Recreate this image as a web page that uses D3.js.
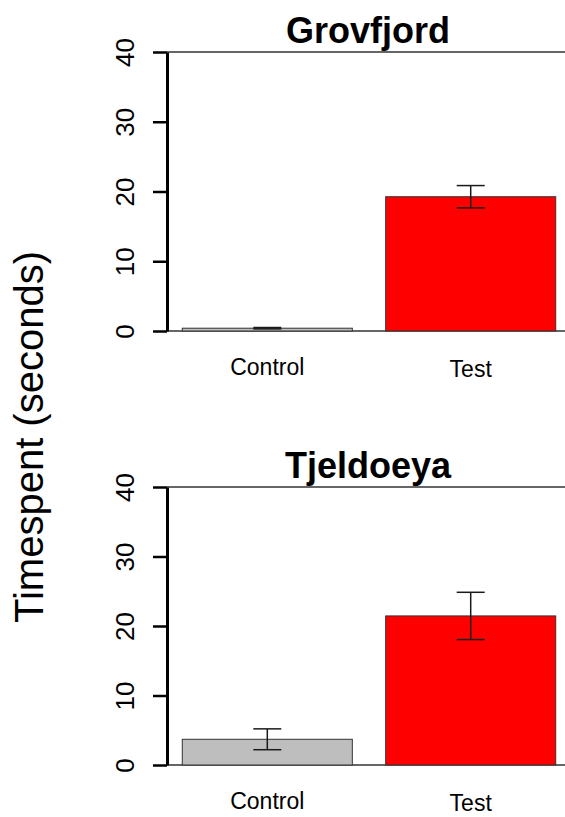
<!DOCTYPE html>
<html>
<head>
<meta charset="utf-8">
<script src="https://cdn.jsdelivr.net/npm/d3@7"></script>
<style>
  body { margin: 0; background: #fff; }
  svg { display: block; font-family: 'Liberation Sans', Arial, sans-serif; }
</style>
</head>
<body>
<div id="chart"></div>
<script>
const sites = ['Grovfjord', 'Tjeldoeya'];
const treatments = ['Control', 'Test'];
const meanTime = [[0.4, 19.25], [3.7, 21.45]];
const seTime = [[0.1, 1.6], [1.5, 3.4]];
const yTicks = [0, 10, 20, 30, 40];
const barColors = ['#bebebe', '#ff0000'];

const width = 565;
const height = 817;
const axisX = 167;

// vertical extent of each panel: [y of 0, y of 40]
const panelRanges = [[331, 52], [765, 487]];

const svg = d3.select('#chart')
  .append('svg')
  .attr('width', width)
  .attr('height', height);

svg.append('rect')
  .attr('width', width)
  .attr('height', height)
  .attr('fill', '#fff');

const x = d3.scaleBand()
  .domain(treatments)
  .range([165.6, 572.4])
  .paddingInner(0.164)
  .paddingOuter(0.082);

sites.forEach((site, i) => {
  const y = d3.scaleLinear()
    .domain([0, 40])
    .range(panelRanges[i]);

  const g = svg.append('g');

  // frame lines at 0 and 40
  [0, 40].forEach(v => {
    g.append('line')
      .attr('x1', axisX)
      .attr('x2', width)
      .attr('y1', y(v))
      .attr('y2', y(v))
      .attr('stroke', '#333')
      .attr('stroke-width', 1.3);
  });

  const rows = treatments.map((t, j) => ({
    label: t,
    value: meanTime[i][j],
    se: seTime[i][j],
    color: barColors[j]
  }));

  g.selectAll('.bar')
    .data(rows)
    .enter()
    .append('rect')
    .attr('class', 'bar')
    .attr('x', d => x(d.label))
    .attr('y', d => y(d.value))
    .attr('width', x.bandwidth())
    .attr('height', d => y(0) - y(d.value))
    .attr('fill', d => d.color)
    .attr('stroke', '#333')
    .attr('stroke-width', 1);

  // error bars
  const err = g.selectAll('.err')
    .data(rows)
    .enter()
    .append('g')
    .attr('class', 'err')
    .attr('stroke', '#1a1a1a')
    .attr('stroke-width', 1.5);

  err.append('line')
    .attr('x1', d => x(d.label) + x.bandwidth() / 2)
    .attr('x2', d => x(d.label) + x.bandwidth() / 2)
    .attr('y1', d => y(d.value - d.se))
    .attr('y2', d => y(d.value + d.se));

  [-1, 1].forEach(s => {
    err.append('line')
      .attr('x1', d => x(d.label) + x.bandwidth() / 2 - 14)
      .attr('x2', d => x(d.label) + x.bandwidth() / 2 + 14)
      .attr('y1', d => y(d.value + s * d.se))
      .attr('y2', d => y(d.value + s * d.se));
  });

  // y axis
  const axis = g.append('g')
    .attr('transform', `translate(${axisX},0)`)
    .call(d3.axisLeft(y).tickValues(yTicks).tickSize(14).tickSizeOuter(0));

  axis.select('.domain')
    .attr('stroke', '#000')
    .attr('stroke-width', 3);

  axis.selectAll('.tick line')
    .attr('stroke', '#000')
    .attr('stroke-width', 2.5);

  axis.selectAll('.tick text')
    .attr('x', 0)
    .attr('dy', 0)
    .attr('transform', 'translate(-33,0) rotate(-90)')
    .attr('text-anchor', 'middle')
    .attr('fill', '#000')
    .style('font-size', '26px')
    .style('font-family', "'Liberation Sans', Arial, sans-serif");

  // category labels
  g.selectAll('.cat')
    .data(rows)
    .enter()
    .append('text')
    .attr('class', 'cat')
    .attr('x', d => x(d.label) + x.bandwidth() / 2)
    .attr('y', (d, j) => y(0) + 44 + j * 2)
    .attr('text-anchor', 'middle')
    .style('font-size', '23px')
    .text(d => d.label);

  // panel title
  g.append('text')
    .attr('x', 368)
    .attr('y', y(40) - 9)
    .attr('text-anchor', 'middle')
    .style('font-size', '36px')
    .style('font-weight', 'bold')
    .text(site);
});

svg.append('text')
  .attr('transform', 'translate(43,437) rotate(-90)')
  .attr('text-anchor', 'middle')
  .style('font-size', '40px')
  .text('Timespent (seconds)');
</script>
</body>
</html>
